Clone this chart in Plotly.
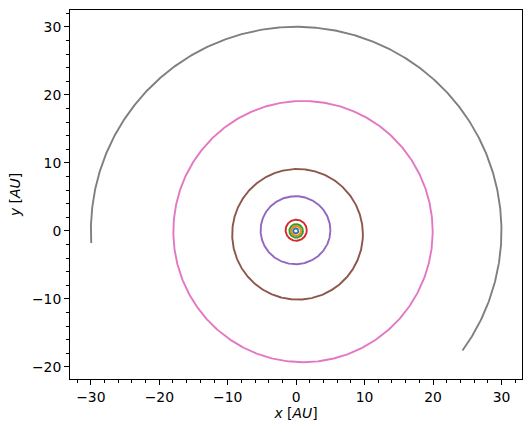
import numpy as np
import plotly.graph_objects as go

# Orbit parameters (AU)
planets = ["Mercury", "Venus", "Earth", "Mars", "Jupiter", "Saturn", "Uranus", "Neptune"]
colors = ["#1f77b4", "#ff7f0e", "#2ca02c", "#d62728", "#9467bd", "#8c564b", "#e377c2", "#7f7f7f"]
center_x = [-0.05, 0.0, 0.0, 0.0, -0.1, 0.2, 1.0, 0.0]
center_y = [0.0, 0.0, 0.0, 0.1, 0.1, -0.5, -0.1, 0.0]
semi_x = [0.39, 0.72, 1.0, 1.55, 5.1, 9.55, 18.95, 30.0]
semi_y = [0.38, 0.72, 1.0, 1.55, 5.0, 9.6, 19.2, 30.0]
start_deg = [0, 0, 0, 0, 0, 0, 0, -35.9]
sweep_deg = [360, 360, 360, 360, 360, 360, 360, 219.3]

x_ticks = [-30, -20, -10, 0, 10, 20, 30]
y_ticks = [-20, -10, 0, 10, 20, 30]

fig = go.Figure()
for name, c, cx, cy, rx, ry, s, sw in zip(planets, colors, center_x, center_y,
                                          semi_x, semi_y, start_deg, sweep_deg):
    t = np.radians(np.linspace(s, s + sw, 600))
    fig.add_trace(go.Scatter(x=cx + rx * np.cos(t), y=cy + ry * np.sin(t),
                             mode="lines", name=name,
                             line=dict(color=c, width=1.9)))

font = dict(family="DejaVu Sans", size=13.9, color="black")
axis_common = dict(
    showgrid=False, zeroline=False, showline=True, linecolor="black",
    linewidth=1.1, mirror=True, ticks="outside", ticklen=4.9, tickwidth=1.1,
    tickcolor="black", tickfont=font,
    minor=dict(dtick=2, ticks="outside", ticklen=2.8, tickwidth=0.8, tickcolor="black"),
)
fig.update_layout(
    width=531, height=433,
    margin=dict(l=70, r=9, t=10, b=54),
    plot_bgcolor="white", paper_bgcolor="white",
    showlegend=False, font=font,
    xaxis=dict(range=[-33.05, 33.0], tickvals=x_ticks,
               title=dict(text="<i>x</i> [<i>AU</i>]", font=font, standoff=3),
               **axis_common),
    yaxis=dict(range=[-21.77, 32.47], tickvals=y_ticks,
               title=dict(text="<i>y</i> [<i>AU</i>]", font=font, standoff=8),
               **axis_common),
)
fig.write_html("out.html")
